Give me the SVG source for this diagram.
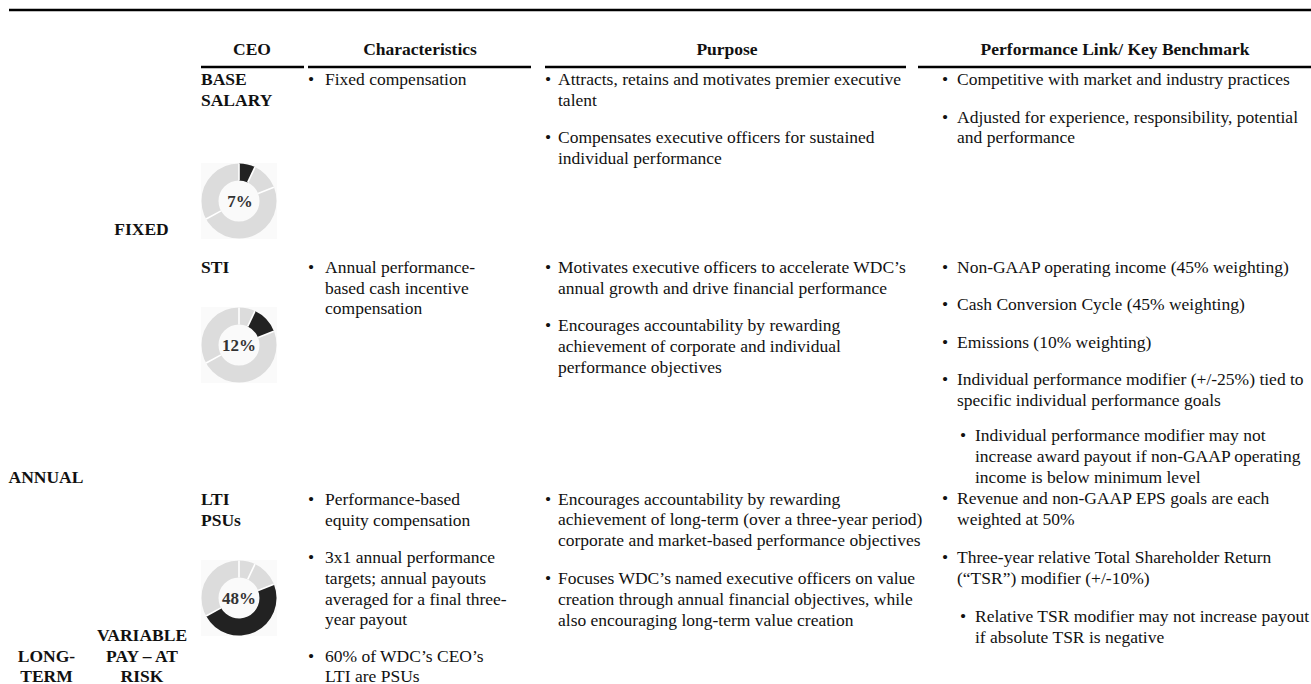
<svg xmlns="http://www.w3.org/2000/svg" width="1311" height="684" viewBox="0 0 1311 684">
<style>
text{font-family:"Liberation Serif","Times New Roman",serif;font-size:17.5px;fill:#111}
.b{font-weight:bold}
.c{text-anchor:middle}
.rule{stroke:#000;stroke-width:2.5}
.ring{fill:none;stroke:#dcdcdc;stroke-width:17}
.dark{fill:#222}
.sep{stroke:#fff;stroke-width:1.6}
.bg{fill:#fafafa}
.pct{font-weight:bold;font-size:17px;text-anchor:middle;fill:#333}
</style>
<defs>
<g id="seps">
<line class="sep" x1="0" y1="-20.5" x2="0" y2="-37.5"/>
<line class="sep" x1="8.73" y1="-18.55" x2="15.97" y2="-33.93"/>
<line class="sep" x1="19.06" y1="-7.55" x2="34.87" y2="-13.80"/>
<line class="sep" x1="-17.96" y1="9.88" x2="-32.86" y2="18.07"/>
</g>
<g id="base">
<rect class="bg" x="-38" y="-38" width="76" height="76"/>
<circle class="ring" r="29"/>
</g>
</defs>

<g id="rules">
<line class="rule" x1="9" y1="10" x2="1311" y2="10"/>
<line class="rule" x1="201" y1="67" x2="304" y2="67"/>
<line class="rule" x1="308" y1="67" x2="531" y2="67"/>
<line class="rule" x1="545" y1="67" x2="906" y2="67"/>
<line class="rule" x1="918" y1="67" x2="1311" y2="67"/>
</g>

<g id="headers">
<text class="b c" x="252" y="55">CEO</text>
<text class="b c" x="420" y="55">Characteristics</text>
<text class="b c" x="727" y="55">Purpose</text>
<text class="b c" x="1115" y="55">Performance Link/ Key Benchmark</text>
</g>

<g id="side-labels">
<text class="b c" x="141.5" y="235">FIXED</text>
<text class="b c" x="46" y="483">ANNUAL</text>
<text class="b c" x="142" y="641">VARIABLE</text>
<text class="b c" x="142" y="662">PAY – AT</text>
<text class="b c" x="142" y="682">RISK</text>
<text class="b c" x="46.5" y="662">LONG-</text>
<text class="b c" x="46.5" y="682">TERM</text>
</g>

<g id="base-salary">
<text class="b" x="201" y="85">BASE</text>
<text class="b" x="201" y="106">SALARY</text>
<g transform="translate(239,201)">
<use href="#base"/>
<path class="dark" d="M0,-37.5 A37.5,37.5 0 0 1 15.97,-33.93 L8.73,-18.55 A20.5,20.5 0 0 0 0,-20.5 Z"/>
<use href="#seps"/>
<text class="pct" x="1" y="6">7%</text>
</g>
<text x="308" y="85">•</text><text x="325" y="85">Fixed compensation</text>
<text x="545" y="85">•</text><text x="558" y="85">Attracts, retains and motivates premier executive</text>
<text x="558" y="106">talent</text>
<text x="545" y="143">•</text><text x="558" y="143">Compensates executive officers for sustained</text>
<text x="558" y="164">individual performance</text>
<text x="942" y="85">•</text><text x="957" y="85">Competitive with market and industry practices</text>
<text x="942" y="123">•</text><text x="957" y="123">Adjusted for experience, responsibility, potential</text>
<text x="957" y="143">and performance</text>
</g>

<g id="sti">
<text class="b" x="201" y="273">STI</text>
<g transform="translate(239,345)">
<use href="#base"/>
<path class="dark" d="M15.97,-33.93 A37.5,37.5 0 0 1 34.87,-13.80 L19.06,-7.55 A20.5,20.5 0 0 0 8.73,-18.55 Z"/>
<use href="#seps"/>
<text class="pct" x="0" y="6">12%</text>
</g>
<text x="308" y="273">•</text><text x="325" y="273">Annual performance-</text>
<text x="325" y="294">based cash incentive</text>
<text x="325" y="314">compensation</text>
<text x="545" y="273">•</text><text x="558" y="273">Motivates executive officers to accelerate WDC’s</text>
<text x="558" y="294">annual growth and drive financial performance</text>
<text x="545" y="331">•</text><text x="558" y="331">Encourages accountability by rewarding</text>
<text x="558" y="352">achievement of corporate and individual</text>
<text x="558" y="373">performance objectives</text>
<text x="942" y="273">•</text><text x="957" y="273">Non-GAAP operating income (45% weighting)</text>
<text x="942" y="310">•</text><text x="957" y="310">Cash Conversion Cycle (45% weighting)</text>
<text x="942" y="348">•</text><text x="957" y="348">Emissions (10% weighting)</text>
<text x="942" y="385">•</text><text x="957" y="385">Individual performance modifier (+/-25%) tied to</text>
<text x="957" y="406">specific individual performance goals</text>
<text x="960" y="441">•</text><text x="975" y="441">Individual performance modifier may not</text>
<text x="975" y="462">increase award payout if non-GAAP operating</text>
<text x="975" y="483">income is below minimum level</text>
</g>

<g id="lti-psus">
<text class="b" x="201" y="505">LTI</text>
<text class="b" x="201" y="526">PSUs</text>
<g transform="translate(239,598)">
<use href="#base"/>
<path class="dark" d="M34.87,-13.80 A37.5,37.5 0 0 1 -32.86,18.07 L-17.96,9.88 A20.5,20.5 0 0 0 19.06,-7.55 Z"/>
<use href="#seps"/>
<text class="pct" x="0" y="6">48%</text>
</g>
<text x="308" y="505">•</text><text x="325" y="505">Performance-based</text>
<text x="325" y="526">equity compensation</text>
<text x="308" y="563">•</text><text x="325" y="563">3x1 annual performance</text>
<text x="325" y="584">targets; annual payouts</text>
<text x="325" y="605">averaged for a final three-</text>
<text x="325" y="625">year payout</text>
<text x="308" y="662">•</text><text x="325" y="662">60% of WDC’s CEO’s</text>
<text x="325" y="682">LTI are PSUs</text>
<text x="545" y="505">•</text><text x="558" y="505">Encourages accountability by rewarding</text>
<text x="558" y="525">achievement of long-term (over a three-year period)</text>
<text x="558" y="546">corporate and market-based performance objectives</text>
<text x="545" y="584">•</text><text x="558" y="584">Focuses WDC’s named executive officers on value</text>
<text x="558" y="605">creation through annual financial objectives, while</text>
<text x="558" y="626">also encouraging long-term value creation</text>
<text x="942" y="504">•</text><text x="957" y="504">Revenue and non-GAAP EPS goals are each</text>
<text x="957" y="525">weighted at 50%</text>
<text x="942" y="563">•</text><text x="957" y="563">Three-year relative Total Shareholder Return</text>
<text x="957" y="584">(“TSR”) modifier (+/-10%)</text>
<text x="960" y="622">•</text><text x="975" y="622">Relative TSR modifier may not increase payout</text>
<text x="975" y="643">if absolute TSR is negative</text>
</g>
</svg>
